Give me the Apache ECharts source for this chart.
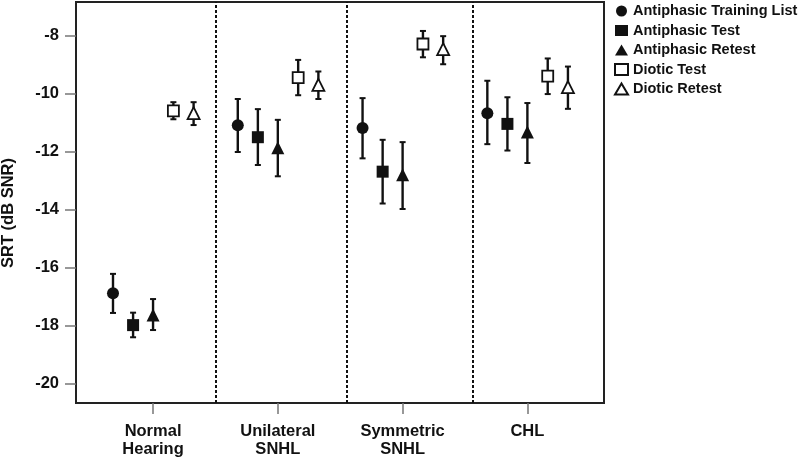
<!DOCTYPE html>
<html>
<head>
<meta charset="utf-8">
<script src="https://cdn.jsdelivr.net/npm/echarts@6/dist/echarts.min.js"></script>
<style>html,body{margin:0;padding:0;background:#fff}#c{width:800px;height:459px}</style>
</head>
<body>
<div id="c"></div>
<script>
const categories = ['Normal\nHearing', 'Unilateral\nSNHL', 'Symmetric\nSNHL', 'CHL'];
const seriesNames = ['Antiphasic Training List', 'Antiphasic Test', 'Antiphasic Retest', 'Diotic Test', 'Diotic Retest'];
const yTicks = [-20, -18, -16, -14, -12, -10, -8];
const dividers = [1.5, 2.553, 3.558];

const trainMean = [-16.89, -11.09, -11.18, -10.67];
const trainLow  = [-17.57, -12.01, -12.23, -11.74];
const trainHigh = [-16.22, -10.18, -10.15, -9.55];

const antiTestMean = [-17.99, -11.50, -12.69, -11.04];
const antiTestLow  = [-18.41, -12.46, -13.79, -11.96];
const antiTestHigh = [-17.56, -10.53, -11.59, -10.12];

const antiRetestMean = [-17.64, -11.86, -12.80, -11.32];
const antiRetestLow  = [-18.16, -12.85, -13.98, -12.39];
const antiRetestHigh = [-17.09, -10.90, -11.67, -10.32];

const dioticTestMean = [-10.59, -9.44, -8.28, -9.39];
const dioticTestLow  = [-10.88, -10.05, -8.74, -10.01];
const dioticTestHigh = [-10.29, -8.83, -7.83, -8.78];

const dioticRetestMean = [-10.67, -9.69, -8.46, -9.77];
const dioticRetestLow  = [-11.08, -10.18, -8.98, -10.52];
const dioticRetestHigh = [-10.29, -9.23, -8.01, -9.06];

const means = [trainMean, antiTestMean, antiRetestMean, dioticTestMean, dioticRetestMean];
const lows = [trainLow, antiTestLow, antiRetestLow, dioticTestLow, dioticRetestLow];
const highs = [trainHigh, antiTestHigh, antiRetestHigh, dioticTestHigh, dioticRetestHigh];

// styling / layout
const offsets = [-0.321, -0.16, 0, 0.163, 0.325];
const symbols = ['circle', 'rect', 'triangle', 'rect', 'triangle'];
const hollow = [false, false, false, true, true];
const sizes = [12, 12, 13, 11, 12];
const FONT = 'Liberation Sans, Arial, Helvetica, sans-serif';

function renderErr(params, api) {
  const x = api.value(0), lo = api.value(1), hi = api.value(2);
  const t = api.coord([x, hi]);
  const b = api.coord([x, lo]);
  const w = 3;
  const st = { stroke: '#111', lineWidth: 2.4 };
  return {
    type: 'group',
    children: [
      { type: 'line', shape: { x1: t[0], y1: t[1], x2: b[0], y2: b[1] }, style: st },
      { type: 'line', shape: { x1: t[0] - w, y1: t[1], x2: t[0] + w, y2: t[1] }, style: { stroke: '#111', lineWidth: 2 } },
      { type: 'line', shape: { x1: b[0] - w, y1: b[1], x2: b[0] + w, y2: b[1] }, style: { stroke: '#111', lineWidth: 2 } }
    ]
  };
}

const series = [];
seriesNames.forEach((name, s) => {
  series.push({
    name: name + ' err',
    type: 'custom',
    renderItem: renderErr,
    encode: { x: 0, y: [1, 2] },
    z: 2,
    silent: true,
    data: categories.map((c, i) => [i + 1 + offsets[s], lows[s][i], highs[s][i]])
  });
});
seriesNames.forEach((name, s) => {
  const sObj = {
    name: name,
    type: 'scatter',
    symbol: symbols[s],
    symbolSize: sizes[s],
    z: 3,
    itemStyle: hollow[s]
      ? { color: '#fff', borderColor: '#111', borderWidth: 1.8, opacity: 1 }
      : { color: '#111', opacity: 1 },
    data: categories.map((c, i) => [i + 1 + offsets[s], means[s][i]])
  };
  if (s === 0) {
    sObj.markLine = {
      silent: true,
      symbol: 'none',
      label: { show: false },
      lineStyle: { color: '#111', width: 2, type: [3, 2] },
      data: dividers.map(d => ({ xAxis: d }))
    };
  }
  series.push(sObj);
});

const chart = echarts.init(document.getElementById('c'), null, { renderer: 'canvas' });
chart.setOption({
  animation: false,
  backgroundColor: '#fff',
  textStyle: { fontFamily: FONT },
  grid: {
    left: 76, right: 196, top: 2, bottom: 56,
    containLabel: false,
    outerBoundsMode: 'none',
    show: true, borderColor: '#222', borderWidth: 2, backgroundColor: 'transparent'
  },
  legend: {
    data: seriesNames,
    orient: 'vertical',
    left: 614, top: 3,
    padding: 0,
    itemWidth: 13, itemHeight: 11,
    itemGap: 3.5,
    textStyle: { fontFamily: FONT, fontSize: 14.5, fontWeight: 'bold', color: '#111', lineHeight: 16 }
  },
  xAxis: {
    type: 'value',
    min: 0.3825, max: 4.614,
    splitLine: { show: false },
    axisLine: { show: true, onZero: false, lineStyle: { color: '#222', width: 2 } },
    axisTick: { show: true, length: 11, lineStyle: { color: '#777', width: 1.5 }, customValues: [1, 2, 3, 4] },
    axisLabel: {
      customValues: [1, 2, 3, 4],
      formatter: v => categories[Math.round(v) - 1],
      fontFamily: FONT, fontSize: 16.5, fontWeight: 'bold', color: '#111',
      lineHeight: 18, margin: 19
    }
  },
  yAxis: {
    type: 'value',
    min: -20.68, max: -6.83,
    name: 'SRT (dB SNR)',
    nameLocation: 'middle',
    nameGap: 59,
    nameTextStyle: { fontFamily: FONT, fontSize: 16.5, fontWeight: 'bold', color: '#111', padding: [0, 21, 0, 0] },
    splitLine: { show: false },
    axisLine: { show: true, onZero: false, lineStyle: { color: '#222', width: 2 } },
    axisTick: { show: true, length: 11, lineStyle: { color: '#777', width: 1.5 }, customValues: yTicks },
    axisLabel: {
      customValues: yTicks,
      fontFamily: FONT, fontSize: 16.5, fontWeight: 'bold', color: '#111', margin: 17
    }
  },
  series: series
});
</script>
</body>
</html>
